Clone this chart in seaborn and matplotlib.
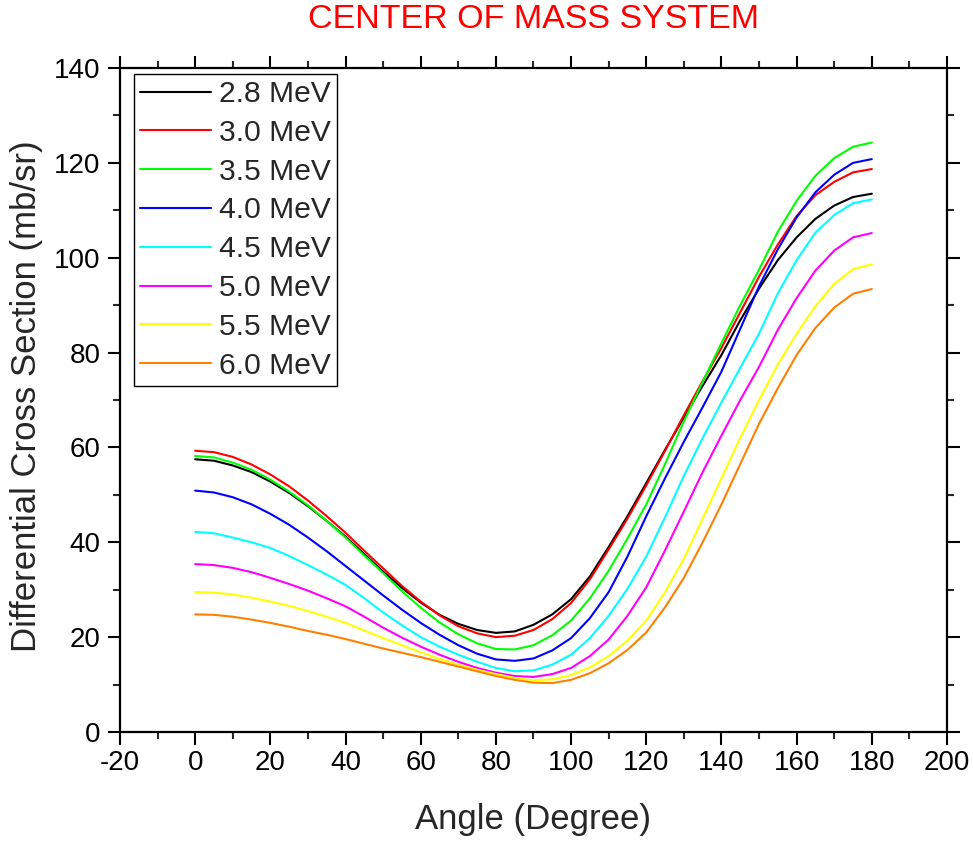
import matplotlib
matplotlib.use("Agg")
import matplotlib.pyplot as plt
import pandas as pd
import seaborn as sns
from matplotlib.ticker import MultipleLocator

# ---------------- data ----------------
angles = [0, 5, 10, 15, 20, 25, 30, 35, 40, 45, 50, 55, 60, 65, 70, 75, 80, 85, 90,
          95, 100, 105, 110, 115, 120, 125, 130, 135, 140, 145, 150, 155, 160, 165, 170, 175, 180]
energies = ["2.8 MeV", "3.0 MeV", "3.5 MeV", "4.0 MeV", "4.5 MeV", "5.0 MeV", "5.5 MeV", "6.0 MeV"]

e28 = [57.5, 57.2, 56.2, 54.8, 52.8, 50.4, 47.6, 44.5, 41.2, 37.5, 33.8, 30.4, 27.3, 24.7, 22.8, 21.5, 20.9, 21.2, 22.6,
       24.8, 28.0, 32.8, 39.0, 45.5, 52.5, 59.5, 66.3, 73.0, 79.5, 86.8, 93.5, 99.5, 104.3, 108.2, 111.0, 112.8, 113.5]
e30 = [59.3, 59.0, 58.0, 56.4, 54.3, 51.8, 48.8, 45.5, 42.0, 38.2, 34.5, 30.8, 27.5, 24.6, 22.3, 20.8, 20.0, 20.3, 21.5,
       23.8, 27.2, 32.2, 38.5, 45.0, 52.0, 59.3, 66.8, 74.0, 81.0, 88.5, 96.0, 102.8, 108.8, 113.2, 116.0, 118.0, 118.7]
e35 = [58.2, 57.9, 56.8, 55.3, 53.2, 50.7, 47.8, 44.5, 41.0, 37.2, 33.5, 29.7, 26.2, 23.1, 20.6, 18.7, 17.5, 17.4, 18.3,
       20.4, 23.5, 28.2, 34.0, 40.8, 48.0, 56.5, 65.5, 73.8, 82.0, 90.0, 97.5, 105.5, 112.0, 117.3, 121.0, 123.4, 124.3]
e40 = [50.9, 50.5, 49.5, 48.0, 46.0, 43.7, 41.0, 38.1, 35.0, 31.9, 28.8, 25.8, 23.0, 20.5, 18.3, 16.5, 15.3, 15.0, 15.5,
       17.2, 19.8, 24.0, 29.5, 37.0, 45.5, 53.5, 61.2, 68.5, 76.0, 85.0, 94.0, 101.8, 108.5, 113.8, 117.5, 120.0, 120.8]
e45 = [42.2, 41.9, 41.0, 40.0, 38.8, 37.1, 35.2, 33.2, 31.0, 28.2, 25.2, 22.5, 20.0, 18.0, 16.3, 14.8, 13.5, 12.8, 13.0,
       14.2, 16.3, 19.8, 24.5, 30.2, 37.0, 45.3, 54.0, 62.0, 69.5, 76.8, 84.0, 92.5, 99.5, 105.3, 109.0, 111.5, 112.3]
e50 = [35.4, 35.2, 34.6, 33.7, 32.5, 31.2, 29.8, 28.2, 26.5, 24.3, 22.0, 19.9, 18.0, 16.3, 14.8, 13.5, 12.5, 11.8, 11.6,
       12.2, 13.5, 16.0, 19.5, 24.5, 30.5, 38.3, 46.5, 54.8, 62.5, 70.0, 77.0, 84.8, 91.5, 97.3, 101.5, 104.3, 105.2]
e55 = [29.5, 29.4, 29.0, 28.3, 27.5, 26.6, 25.5, 24.3, 23.0, 21.4, 19.8, 18.3, 16.8, 15.4, 14.2, 13.1, 12.2, 11.4, 10.9,
       11.1, 12.0, 13.6, 16.0, 19.3, 23.5, 29.5, 36.5, 45.0, 53.5, 62.0, 70.0, 77.5, 84.0, 89.8, 94.5, 97.6, 98.6]
e60 = [24.8, 24.7, 24.3, 23.7, 23.0, 22.2, 21.3, 20.5, 19.6, 18.6, 17.6, 16.7, 15.8, 14.8, 13.8, 12.8, 11.8, 11.0, 10.4,
       10.3, 11.0, 12.4, 14.5, 17.3, 21.0, 26.3, 32.5, 40.0, 48.0, 56.5, 65.0, 72.5, 79.5, 85.2, 89.5, 92.4, 93.4]

series = [e28, e30, e35, e40, e45, e50, e55, e60]
colors = ["#000000", "#FF0000", "#00FF00", "#0000FF", "#00FFFF", "#FF00FF", "#FFFF00", "#FF8000"]

x_ticks = [-20, 0, 20, 40, 60, 80, 100, 120, 140, 160, 180, 200]
y_ticks = [0, 20, 40, 60, 80, 100, 120, 140]

# ---------------- style ----------------
sns.set_style("ticks")
plt.rcParams["font.family"] = ["Liberation Sans", "DejaVu Sans"]

rows = []
for name, vals in zip(energies, series):
    for a, v in zip(angles, vals):
        rows.append({"Angle": a, "Value": v, "Energy": name})
df = pd.DataFrame(rows)

fig = plt.figure(figsize=(9.73, 8.43), dpi=100)
ax = fig.add_axes([0.1233, 0.1317, 0.85, 0.7876])

sns.lineplot(data=df, x="Angle", y="Value", hue="Energy", hue_order=energies,
             palette=colors, linewidth=1.5, ax=ax, legend=True, sort=True,
             estimator=None)

ax.set_xlim(-20, 200)
ax.set_ylim(0, 140)
ax.set_xticks(x_ticks)
ax.set_yticks(y_ticks)
ax.xaxis.set_minor_locator(MultipleLocator(10))
ax.yaxis.set_minor_locator(MultipleLocator(10))
ax.set_xticklabels([str(t) for t in x_ticks])
ax.set_yticklabels([str(t) for t in y_ticks])

for sp in ax.spines.values():
    sp.set_visible(True)
    sp.set_linewidth(1.6)
    sp.set_color("black")

ax.tick_params(which="major", direction="out", length=9, width=1.5,
               labelsize=20, pad=4, top=True, right=True, colors="black")
ax.tick_params(which="minor", direction="out", length=5, width=1.5,
               top=True, right=True)
ax.tick_params(axis="y", which="major", pad=5)

ax.set_xlabel("")
ax.set_ylabel("")
fig.text(0.548, 1 - 820 / 843, "Angle (Degree)", fontsize=25, ha="center", va="center")
fig.text(0.027, 1 - 396 / 843, "Differential Cross Section (mb/sr)", fontsize=25,
         ha="center", va="center", rotation=90)
fig.text(0.548, 1 - 19 / 843, "CENTER OF MASS SYSTEM", fontsize=24.5, color="#FF0000",
         ha="center", va="center")

handles, labels = ax.get_legend_handles_labels()
leg = ax.legend(handles, labels, loc="upper left", bbox_to_anchor=(0.0169, 0.991),
                borderaxespad=0, fontsize=21.6, frameon=True, fancybox=False,
                edgecolor="black", framealpha=1, handlelength=2.37,
                handletextpad=0.27, borderpad=0.2, labelspacing=0.36)
leg.get_frame().set_linewidth(1.0)
for line in leg.get_lines():
    line.set_linewidth(1.5)

fig.savefig("out.png", dpi=100)
